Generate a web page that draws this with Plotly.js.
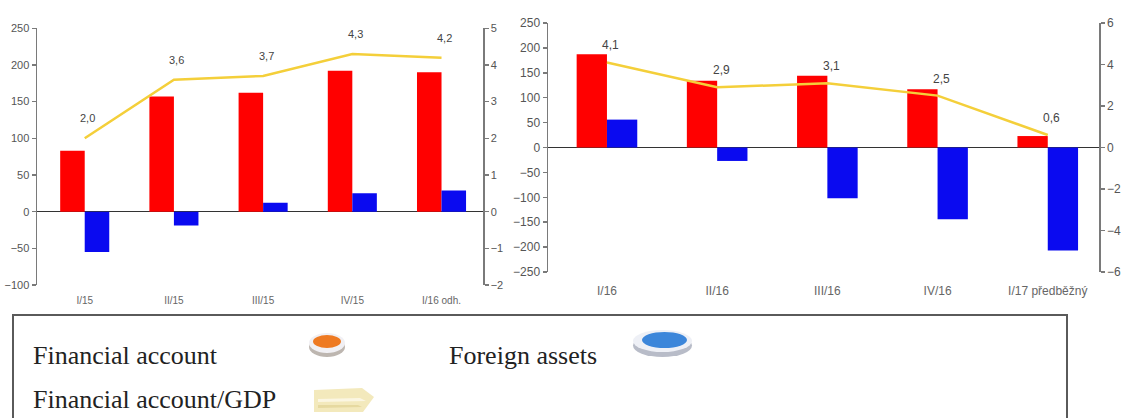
<!DOCTYPE html>
<html>
<head>
<meta charset="utf-8">
<script src="https://cdn.plot.ly/plotly-3.0.1.min.js"></script>
<style>
  html, body { margin: 0; padding: 0; background: #fff; }
  #chart { width: 1122px; height: 418px; }
</style>
</head>
<body>
<div id="chart"></div>
<script>
// ---- data ----
const categories2015 = ["I/15", "II/15", "III/15", "IV/15", "I/16 odh."];
const financialAccount2015 = [83, 157, 162, 192, 190];
const foreignAssets2015 = [-55, -19, 12, 25, 29];
const faToGdp2015 = [2.0, 3.6, 3.7, 4.3, 4.2];

const categories2016 = ["I/16", "II/16", "III/16", "IV/16", "I/17 předběžný"];
const financialAccount2016 = [187, 134, 144, 117, 23];
const foreignAssets2016 = [56, -27, -102, -144, -207];
const faToGdp2016 = [4.1, 2.9, 3.1, 2.5, 0.6];

const legendNames = ["Financial account", "Foreign assets", "Financial account/GDP"];

// ---- helpers ----
const W = 1122, H = 418;
const px = x => x / W;
const py = y => 1 - y / H;
const fmt = v => v.toFixed(1).replace('.', ',');

const RED = '#FF0000', BLUE = '#0A0AF0', GOLD = '#F4CF3A';
const AXIS = '#7a7a7a', TXT = '#555555';
const sans = 'Liberation Sans, Arial, sans-serif';
const serif = 'Liberation Serif, Times New Roman, serif';

const traces = [
  {type: 'bar', x: categories2015, y: financialAccount2015, xaxis: 'x', yaxis: 'y',
   marker: {color: RED}, name: legendNames[0], showlegend: false, hoverinfo: 'skip'},
  {type: 'bar', x: categories2015, y: foreignAssets2015, xaxis: 'x', yaxis: 'y',
   marker: {color: BLUE}, name: legendNames[1], showlegend: false, hoverinfo: 'skip'},
  {type: 'scatter', mode: 'lines', x: categories2015, y: faToGdp2015, xaxis: 'x', yaxis: 'y2',
   line: {color: GOLD, width: 2.5}, name: legendNames[2], showlegend: false, hoverinfo: 'skip'},
  {type: 'bar', x: categories2016, y: financialAccount2016, xaxis: 'x2', yaxis: 'y3',
   marker: {color: RED}, name: legendNames[0], showlegend: false, hoverinfo: 'skip'},
  {type: 'bar', x: categories2016, y: foreignAssets2016, xaxis: 'x2', yaxis: 'y3',
   marker: {color: BLUE}, name: legendNames[1], showlegend: false, hoverinfo: 'skip'},
  {type: 'scatter', mode: 'lines', x: categories2016, y: faToGdp2016, xaxis: 'x2', yaxis: 'y4',
   line: {color: GOLD, width: 2.5}, name: legendNames[2], showlegend: false, hoverinfo: 'skip'}
];

const yCommon = {
  showgrid: false, showline: true, linecolor: AXIS, linewidth: 1.5,
  ticks: 'outside', ticklen: 4, tickcolor: AXIS, tickwidth: 1.5,
  fixedrange: true
};

const annotations = [];
faToGdp2015.forEach((v, i) => annotations.push({
  x: categories2015[i], y: v, xref: 'x', yref: 'y2', text: fmt(v),
  showarrow: false, yshift: 20, xshift: 3, font: {family: sans, size: 11, color: '#444'}
}));
faToGdp2016.forEach((v, i) => annotations.push({
  x: categories2016[i], y: v, xref: 'x2', yref: 'y4', text: fmt(v),
  showarrow: false, yshift: 17, xshift: 4, font: {family: sans, size: 12, color: '#444'}
}));

// legend texts
annotations.push({xref: 'paper', yref: 'paper', x: px(31), y: py(355), xanchor: 'left', yanchor: 'middle',
  text: legendNames[0], showarrow: false, font: {family: serif, size: 26, color: '#222'}});
annotations.push({xref: 'paper', yref: 'paper', x: px(447), y: py(355), xanchor: 'left', yanchor: 'middle',
  text: legendNames[1], showarrow: false, font: {family: serif, size: 26, color: '#222'}});
annotations.push({xref: 'paper', yref: 'paper', x: px(31), y: py(399), xanchor: 'left', yanchor: 'middle',
  text: legendNames[2], showarrow: false, font: {family: serif, size: 26, color: '#222'}});

const ell = (x0, y0, x1, y1, fill) => ({type: 'circle', xref: 'paper', yref: 'paper',
  x0: px(x0), x1: px(x1), y0: py(y1), y1: py(y0), fillcolor: fill, line: {width: 0}, layer: 'above'});
const poly = (pts, fill) => ({type: 'path', xref: 'paper', yref: 'paper',
  path: 'M' + pts.map(p => px(p[0]) + ',' + py(p[1])).join(' L') + ' Z',
  fillcolor: fill, line: {width: 0}, layer: 'above'});

const shapes = [
  // legend frame
  {type: 'rect', xref: 'paper', yref: 'paper', x0: px(13), x1: px(1067), y0: -0.05, y1: py(315),
   line: {color: '#5a5a5a', width: 2}, fillcolor: 'rgba(0,0,0,0)'},
  // orange button
  ell(309, 337, 345, 357, '#BDB6B0'),
  ell(309, 333, 345, 353, '#F1F0F4'),
  ell(313, 335, 341, 348, '#EE7A22'),
  // blue button
  ell(633, 334, 692, 357, '#B8BCC8'),
  ell(633, 330, 692, 352, '#EEF0F6'),
  ell(642, 332, 687, 348, '#3C86DA'),
  // yellow arrow
  poly([[314, 390], [362, 388], [374, 397], [363, 412], [314, 412]], '#F3E9BC'),
  poly([[318, 399], [360, 398], [366, 401], [318, 402]], '#FBF6E2'),
  poly([[318, 405], [358, 405], [362, 407], [318, 408]], '#E6D9A0')
];

const layout = {
  width: W, height: H, autosize: false,
  margin: {l: 0, r: 0, t: 0, b: 0, pad: 0},
  paper_bgcolor: '#fff', plot_bgcolor: 'rgba(0,0,0,0)',
  barmode: 'group', bargap: 0.45, bargroupgap: 0,
  showlegend: false,
  font: {family: sans, color: TXT},
  xaxis: {domain: [px(37), px(483)], anchor: 'y', type: 'category', range: [-0.535, 4.465],
    showgrid: false, showline: false,
    zeroline: false, ticks: '', ticklabelstandoff: 8, tickfont: {size: 10, color: '#666'}, fixedrange: true},
  yaxis: Object.assign({}, yCommon, {domain: [py(285), py(28.3)], anchor: 'x', range: [-100, 250], dtick: 50,
    zeroline: true, zerolinecolor: '#333', zerolinewidth: 1.5, tickfont: {size: 11, color: TXT}}),
  yaxis2: Object.assign({}, yCommon, {overlaying: 'y', anchor: 'x', side: 'right', range: [-2, 5], dtick: 1,
    zeroline: false, tickfont: {size: 11, color: TXT}}),
  xaxis2: {domain: [px(548), px(1099)], anchor: 'y3', type: 'category', range: [-0.535, 4.465],
    showgrid: false, showline: false,
    zeroline: false, ticks: '', ticklabelstandoff: 10, tickfont: {size: 12, color: '#666'}, fixedrange: true},
  yaxis3: Object.assign({}, yCommon, {domain: [py(272), py(23)], anchor: 'x2', range: [-250, 250], dtick: 50,
    zeroline: true, zerolinecolor: '#333', zerolinewidth: 1.5, tickfont: {size: 12, color: TXT}}),
  yaxis4: Object.assign({}, yCommon, {overlaying: 'y3', anchor: 'x2', side: 'right', range: [-6, 6], dtick: 2,
    zeroline: false, tickfont: {size: 12, color: TXT}}),
  annotations: annotations,
  shapes: shapes
};

Plotly.newPlot('chart', traces, layout, {displayModeBar: false, staticPlot: true});
</script>
</body>
</html>
